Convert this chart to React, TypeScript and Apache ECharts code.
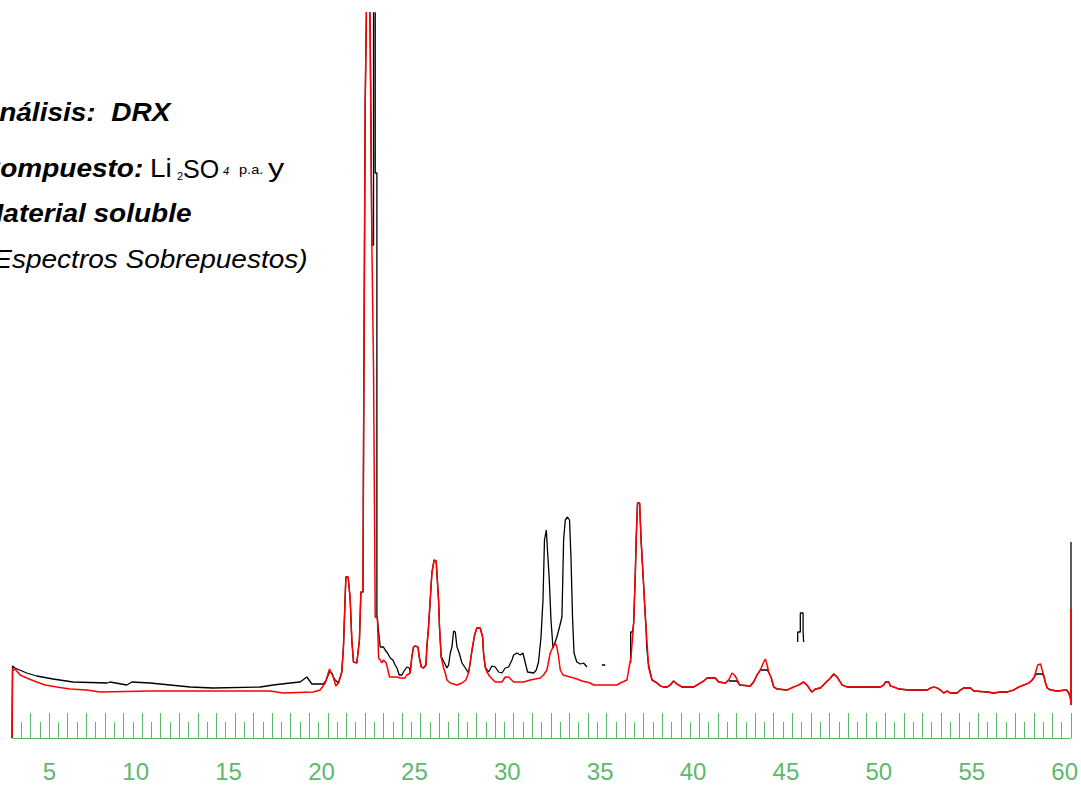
import React, { useEffect, useRef } from "react";
import * as echarts from "echarts";

type Pt = [number, number | string];

const GREEN = "#5cb96c";
const FONT = '"Liberation Sans", Arial, Helvetica, sans-serif';
const GAP = "-";

// 2θ axis
const xMin = 3;
const xMax = 60;
const xLabelValues = [5, 10, 15, 20, 25, 30, 35, 40, 45, 50, 55, 60];
const yMax = 725;

// Red spectrum (material soluble)
const redTrace: Pt[] = [
  [3.0, 0], [3.03, 69], [3.22, 68], [3.43, 63], [3.79, 60], [4.33, 56], [4.78, 53], [5.41, 51],
  [6.12, 49], [7.02, 48], [7.74, 46], [10.43, 47], [13.12, 47], [16.89, 47], [17.59, 45],
  [19.21, 46], [19.59, 48], [19.86, 55], [20.09, 69], [20.29, 61], [20.43, 52], [20.57, 55],
  [20.75, 66], [20.84, 91], [20.97, 161], [21.09, 161], [21.2, 140], [21.29, 98], [21.38, 76],
  [21.56, 75], [21.7, 98], [21.78, 146], [21.89, 146], [21.92, 283], [22.01, 635], [22.1, 760],
  [22.24, 760], [22.28, 702], [22.37, 493], [22.46, 368], [22.55, 121], [22.67, 120], [22.73, 80],
  [22.82, 78], [22.91, 75], [22.99, 78], [23.14, 75], [23.21, 70], [23.32, 61], [23.72, 61],
  [23.89, 60], [24.16, 60], [24.25, 63], [24.43, 65], [24.52, 81], [24.61, 91], [24.7, 92],
  [24.85, 91], [24.92, 81], [25.03, 71], [25.15, 70], [25.28, 73], [25.33, 91], [25.42, 111],
  [25.51, 138], [25.6, 165], [25.72, 178], [25.83, 177], [25.87, 165], [25.96, 138], [26.01, 111],
  [26.1, 81], [26.23, 70], [26.32, 65], [26.41, 58], [26.59, 55], [26.95, 53], [27.22, 55],
  [27.43, 58], [27.57, 65], [27.66, 75], [27.76, 88], [27.9, 103], [28.02, 110], [28.2, 110],
  [28.33, 101], [28.38, 85], [28.47, 71], [28.56, 66], [28.74, 61], [29.01, 56], [29.37, 56],
  [29.55, 61], [29.73, 61], [30.0, 56], [30.54, 56], [30.9, 58], [31.43, 60], [31.61, 63],
  [31.79, 68], [31.97, 85], [32.12, 91], [32.24, 95], [32.33, 91], [32.42, 81], [32.51, 68],
  [32.66, 63], [33.05, 61], [33.41, 59], [33.68, 57], [34.13, 55], [34.3, 53], [35.56, 53],
  [35.74, 55], [36.1, 58], [36.19, 68], [36.32, 81], [36.46, 115], [36.55, 165], [36.6, 201],
  [36.67, 235], [36.78, 235], [36.86, 198], [36.96, 165], [37.09, 121], [37.18, 95], [37.26, 71],
  [37.45, 58], [37.72, 55], [37.9, 52], [38.07, 51], [38.26, 51], [38.43, 53], [38.61, 57],
  [38.79, 54], [39.06, 51], [39.69, 51], [39.96, 54], [40.23, 57], [40.41, 60], [40.86, 60],
  [41.03, 56], [41.4, 55], [41.57, 58], [41.76, 65], [41.88, 63], [42.02, 59], [42.16, 53],
  [42.74, 52], [42.92, 56], [43.1, 63], [43.28, 68], [43.46, 76], [43.55, 79], [43.64, 73],
  [43.73, 66], [43.87, 60], [44.0, 51], [44.18, 49], [44.72, 48], [45.07, 51], [45.34, 53],
  [45.61, 56], [45.79, 53], [45.97, 48], [46.06, 46], [46.24, 49], [46.51, 50], [46.78, 55],
  [47.05, 60], [47.23, 64], [47.41, 61], [47.68, 53], [47.95, 51], [49.38, 51], [49.74, 51],
  [49.92, 53], [50.01, 56], [50.19, 56], [50.28, 52], [50.46, 51], [50.73, 49], [51.27, 48],
  [52.26, 48], [52.44, 50], [52.62, 51], [52.8, 50], [52.97, 48], [53.15, 45], [53.33, 47],
  [53.51, 45], [53.87, 45], [54.05, 48], [54.23, 50], [54.59, 50], [54.77, 47], [55.49, 46],
  [55.84, 45], [56.2, 46], [56.56, 46], [56.92, 48], [57.19, 51], [57.46, 53], [57.73, 55],
  [57.91, 58], [58.03, 61], [58.13, 68], [58.21, 73], [58.36, 74], [58.45, 68], [58.54, 62],
  [58.63, 55], [58.72, 50], [58.9, 48], [59.26, 47], [59.76, 48], [59.88, 45], [59.97, 40],
  [60.0, 33], [60.0, 129],
];

// Black spectrum (Li2SO4 p.a.) — parts that differ from the red trace
const blackLow: Pt[] = [
  [3.0, 0], [3.03, 72], [3.16, 70], [3.79, 65], [4.33, 62], [5.21, 59], [6.28, 56], [8.12, 55],
  [8.28, 56], [9.18, 53], [9.45, 56], [10.43, 55], [11.51, 53], [12.59, 51], [13.82, 50],
  [16.36, 51], [17.06, 53], [17.97, 55], [18.51, 56], [18.87, 61], [19.14, 54], [19.76, 54],
  [19.91, 58], [20.09, 66], [20.22, 65], [20.3, 61], [20.39, 58], [20.57, 55],
];
const blackMain: Pt[] = [
  [22.46, 493], [22.46, 760], [22.55, 760], [22.55, 565], [22.64, 565], [22.64, 276], [22.64, 123],
  [22.82, 91], [22.99, 91], [23.09, 88], [23.21, 85], [23.36, 80], [23.5, 78], [23.62, 73],
  [23.72, 70], [23.84, 63], [23.99, 63], [24.07, 66], [24.25, 71], [24.39, 70],
];
const black27: Pt[] = [
  [26.14, 80], [26.28, 75], [26.41, 70], [26.5, 73], [26.59, 85], [26.68, 91], [26.77, 107],
  [26.86, 106], [26.95, 91], [27.07, 85], [27.22, 75], [27.4, 70], [27.54, 66],
];
const black30: Pt[] = [
  [28.65, 66], [28.83, 72], [29.01, 71], [29.19, 66], [29.37, 65], [29.55, 70], [29.73, 71],
  [29.91, 78], [30.0, 83], [30.18, 85], [30.36, 83], [30.5, 85], [30.63, 75], [30.75, 66],
  [31.08, 65], [31.22, 68], [31.34, 76], [31.47, 100], [31.58, 138], [31.66, 198], [31.76, 208],
  [31.83, 185], [31.92, 158], [32.01, 118], [32.12, 90], [32.33, 101], [32.47, 111], [32.6, 121],
  [32.69, 198], [32.78, 218], [32.9, 221], [33.01, 218], [33.09, 178], [33.17, 121], [33.25, 85],
  [33.4, 76], [33.59, 74], [33.76, 75], [33.95, 71],
];
const blackDash: Pt[] = [[34.75, 73], [34.93, 73]];
const black36: Pt[] = [[36.3, 75], [36.3, 106], [36.4, 106]];
const black37: Pt[] = [[37.13, 110], [37.16, 92], [37.24, 76], [37.3, 70]];
const black42: Pt[] = [[41.62, 57], [42.02, 57]];
const black43: Pt[] = [[43.39, 68], [43.66, 68], [43.85, 61]];
const blackFork: Pt[] = [
  [45.29, 96], [45.29, 106], [45.43, 106], [45.43, 125], [45.58, 125], [45.58, 106], [45.61, 106],
  [45.61, 96],
];
const black58: Pt[] = [[58.13, 64], [58.45, 64]];
const blackEnd: Pt[] = [[60.0, 196]];

function redRange(a: number, b: number): Pt[] {
  return redTrace.filter((p) => p[0] >= a && p[0] <= b);
}

const blackTrace: Pt[] = [
  ...blackLow,
  ...redRange(20.6, 22.37),
  ...blackMain,
  ...redRange(24.43, 26.1),
  ...black27,
  ...redRange(27.57, 28.47),
  ...black30,
  [34.3, GAP],
  ...blackDash,
  [35.5, GAP],
  ...black36,
  ...redRange(36.46, 37.09),
  ...black37,
  ...redRange(37.45, 41.57),
  ...black42,
  ...redRange(42.16, 43.28),
  ...black43,
  ...redRange(44.0, 45.07),
  [45.2, GAP],
  ...blackFork,
  [45.7, GAP],
  ...redRange(45.34, 58.03),
  ...black58,
  ...redRange(58.54, 60),
  ...blackEnd,
];

const SX = 1.12;
function txt(text: string, x: number, y: number, size: number, weight: string, style: string, sx = SX) {
  return {
    type: "text",
    x,
    y,
    scaleX: sx,
    silent: true,
    style: {
      text,
      fill: "#000",
      fontSize: size,
      fontWeight: weight,
      fontStyle: style,
      fontFamily: FONT,
      verticalAlign: "middle",
      align: "left",
    },
  };
}

export default function App() {
  const ref = useRef<HTMLDivElement>(null);
  useEffect(() => {
    if (!ref.current) return;
    const chart = echarts.init(ref.current, undefined, { renderer: "svg" });
    chart.setOption({
      animation: false,
      backgroundColor: "#ffffff",
      grid: { left: 12, right: 10, top: 13, bottom: 48, containLabel: false },
      xAxis: {
        type: "value",
        min: xMin,
        max: xMax,
        interval: 1,
        axisLine: { show: true, onZero: false, lineStyle: { color: GREEN, width: 1 } },
        axisTick: { show: true, inside: true, length: 25, lineStyle: { color: GREEN, width: 1 } },
        minorTick: { show: true, splitNumber: 2, length: 16, lineStyle: { color: GREEN, width: 1 } },
        splitLine: { show: false },
        minorSplitLine: { show: false },
        axisLabel: {
          show: true,
          showMinLabel: true,
          showMaxLabel: true,
          formatter: (v: number) => (xLabelValues.includes(v) ? String(v) : ""),
          color: GREEN,
          fontSize: 24,
          fontFamily: FONT,
          margin: 21,
          align: "right",
          padding: [0, -7, 0, 0],
        },
      },
      yAxis: { type: "value", min: 0, max: yMax, show: false },
      series: [
        {
          type: "line",
          data: blackTrace,
          symbol: "none",
          showSymbol: false,
          clip: true,
          silent: true,
          lineStyle: { color: "#000000", width: 1.3 },
          z: 2,
        },
        {
          type: "line",
          data: redTrace,
          symbol: "none",
          showSymbol: false,
          clip: true,
          silent: true,
          lineStyle: { color: "#ff0000", width: 1.5 },
          z: 3,
        },
      ],
      graphic: [
        txt("Análisis:  DRX", -21, 113, 25, "bold", "italic"),
        txt("Compuesto:", -20, 168.6, 25, "bold", "italic"),
        txt("Li", 150, 168.6, 25, "normal", "normal"),
        txt("2", 177, 176.5, 10, "normal", "normal"),
        txt("SO", 183, 168.6, 25, "normal", "normal", 1.0),
        txt("4", 223, 171, 10, "normal", "italic"),
        txt("p.a.", 239, 169.5, 13, "normal", "normal"),
        txt("y", 268, 168.6, 25, "normal", "normal", 1.3),
        txt("Material soluble", -20, 213.3, 25, "bold", "italic"),
        txt("(Espectros Sobrepuestos)", -16, 259.3, 25, "normal", "italic"),
      ],
    });
    return () => chart.dispose();
  }, []);
  return (
    <div
      ref={ref}
      style={{ position: "fixed", left: 0, top: 0, width: 1081, height: 786, background: "#fff" }}
    />
  );
}
